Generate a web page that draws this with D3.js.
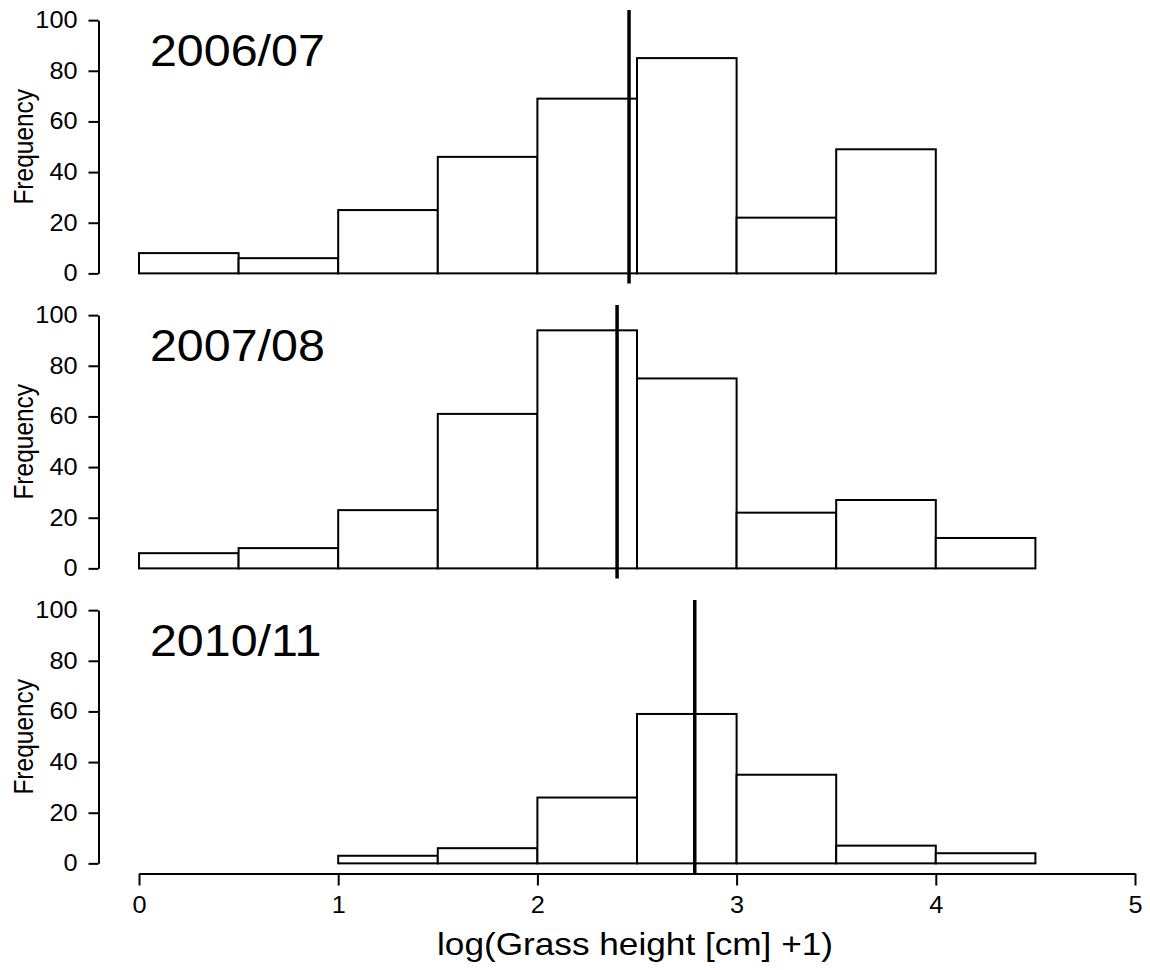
<!DOCTYPE html>
<html>
<head>
<meta charset="utf-8">
<script src="https://cdn.jsdelivr.net/npm/d3@7"></script>
<style>
  body { margin: 0; background: #fff; }
  svg { display: block; }
  text { font-family: "Liberation Sans", Arial, Helvetica, sans-serif; fill: #000; }
</style>
</head>
<body>
<svg id="chart" width="1150" height="970"></svg>
<script>
// Season labels and histogram counts (bin width 0.5 on log(height+1))
const seasons = ["2006/07", "2007/08", "2010/11"];
const binWidth = 0.5;
const binStarts = [0, 0, 1];
const counts0607 = [8, 6, 25, 46, 69, 85, 22, 49];
const counts0708 = [6, 8, 23, 61, 94, 75, 22, 27, 12];
const counts1011 = [3, 6, 26, 59, 35, 7, 4];
const seasonMeans = [2.46, 2.40, 2.79];
const xTicks = [0, 1, 2, 3, 4, 5];
const yTicks = [0, 20, 40, 60, 80, 100];
const xLabel = "log(Grass height [cm] +1)";
const yLabel = "Frequency";

const seriesCounts = [counts0607, counts0708, counts1011];
const panels = seasons.map((s, i) => ({
  season: s,
  mean: seasonMeans[i],
  bins: seriesCounts[i].map((c, j) => ({
    x0: binStarts[i] + j * binWidth,
    x1: binStarts[i] + (j + 1) * binWidth,
    count: c
  }))
}));

// Layout
const svg = d3.select("#chart");
const textStretch = 1.1;          // glyphs are slightly wide in this figure
const panelTop0 = 10, panelStep = 295, panelHeight = 273.5;
const axisX = 98.5;

const x = d3.scaleLinear().domain([0, 5]).range([139, 1135]);

function stretch(sel) {
  // widen glyphs horizontally around the text anchor point
  sel.each(function () {
    const t = d3.select(this);
    const tx = +t.attr("x") || 0;
    t.attr("x", tx / textStretch).attr("transform", `scale(${textStretch},1)`);
  });
}

panels.forEach((p, i) => {
  const top = panelTop0 + i * panelStep;
  const y = d3.scaleLinear().domain([-4, 104]).range([top + panelHeight, top]);
  const g = svg.append("g");

  // bars
  g.selectAll("rect.bar")
    .data(p.bins)
    .join("rect")
    .attr("class", "bar")
    .attr("x", d => x(d.x0))
    .attr("width", d => x(d.x1) - x(d.x0))
    .attr("y", d => y(d.count))
    .attr("height", d => y(0) - y(d.count))
    .attr("fill", "#fff")
    .attr("stroke", "#000")
    .attr("stroke-width", 2);

  // mean line across the full plotting region
  g.append("line")
    .attr("x1", x(p.mean)).attr("x2", x(p.mean))
    .attr("y1", y(104)).attr("y2", y(-4))
    .attr("stroke", "#000")
    .attr("stroke-width", 3.5);

  // y axis spanning 0..100
  const yAxisScale = y.copy().domain([0, 100]).range([y(0), y(100)]);
  const ya = g.append("g")
    .attr("transform", `translate(${axisX},0)`)
    .call(d3.axisLeft(yAxisScale).tickValues(yTicks).tickSize(10).tickSizeOuter(0).tickPadding(11));
  ya.select(".domain").attr("stroke", "#000").attr("stroke-width", 2);
  ya.selectAll(".tick line").attr("stroke", "#000").attr("stroke-width", 2);
  ya.selectAll(".tick text")
    .attr("font-size", 23)
    .attr("font-family", "Liberation Sans, Arial, sans-serif")
    .call(stretch);

  // y axis title
  g.append("text")
    .attr("transform", `translate(32.5,${y(50)}) scale(${textStretch},1) rotate(-90)`)
    .attr("text-anchor", "middle")
    .attr("font-size", 24.5)
    .text(yLabel);

  // season label
  g.append("text")
    .attr("transform", `translate(${x(0.055)},${y(82)}) scale(${textStretch},1)`)
    .attr("font-size", 44)
    .text(p.season);

  // x axis on the bottom panel only
  if (i === panels.length - 1) {
    const xa = g.append("g")
      .attr("transform", `translate(0,${y(-4)})`)
      .call(d3.axisBottom(x).tickValues(xTicks).tickSize(12).tickSizeOuter(0).tickPadding(11).tickFormat(d3.format("d")));
    xa.select(".domain").attr("stroke", "#000").attr("stroke-width", 2);
    xa.selectAll(".tick line").attr("stroke", "#000").attr("stroke-width", 2);
    xa.selectAll(".tick text")
      .attr("font-size", 23)
      .attr("font-family", "Liberation Sans, Arial, sans-serif")
      .call(stretch);

    g.append("text")
      .attr("transform", `translate(${(x(0) + x(5)) / 2 - 2},955) scale(${textStretch},1)`)
      .attr("text-anchor", "middle")
      .attr("font-size", 32)
      .text(xLabel);
  }
});
</script>
</body>
</html>
